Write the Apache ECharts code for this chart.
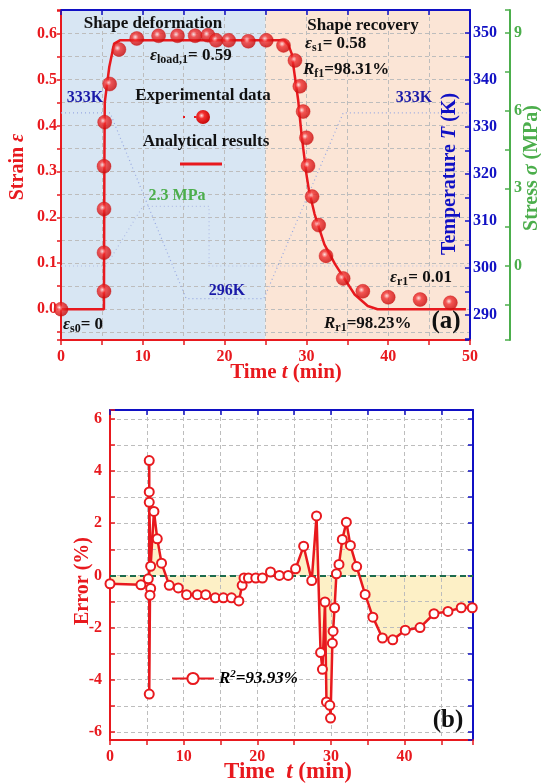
<!DOCTYPE html>
<html>
<head>
<meta charset="utf-8">
<script src="https://cdn.jsdelivr.net/npm/echarts@6/dist/echarts.min.js"></script>
<style>
  html, body { margin: 0; padding: 0; background: #fff; }
  #chart { width: 541px; height: 783px; }
</style>
</head>
<body>
<div id="chart"></div>
<script>
const RED = '#e8191e', BLUE = '#1010c4', GREEN = '#4cae4c';
const FONT = 'Liberation Serif';

// (a) experimental strain points
const expTime = [0, 5.26, 5.26, 5.26, 5.26, 5.34, 5.95, 7.08, 9.26, 11.93, 14.24, 16.4, 17.96, 18.97, 20.5, 22.9, 25.1, 27.2, 28.6, 29.2, 29.6, 30.0, 30.2, 30.7, 31.5, 32.4, 34.5, 36.9, 40.0, 43.9, 47.6];
const expStrain = [0, 0.039, 0.123, 0.218, 0.311, 0.407, 0.49, 0.565, 0.589, 0.595, 0.595, 0.595, 0.596, 0.585, 0.585, 0.583, 0.585, 0.574, 0.541, 0.485, 0.43, 0.373, 0.312, 0.245, 0.183, 0.116, 0.067, 0.039, 0.026, 0.021, 0.014];

// (a) analytical curve
const fitTime = [0, 5.25, 5.3, 5.35, 5.9, 6.5, 7.2, 27.3, 27.8, 28.2, 29.0, 29.4, 30.0, 30.3, 31.0, 32.2, 33.5, 35.9, 37.5, 38.7, 49.5];
const fitStrain = [0, 0, 0.3, 0.45, 0.527, 0.578, 0.585, 0.585, 0.575, 0.556, 0.454, 0.381, 0.294, 0.26, 0.207, 0.141, 0.098, 0.032, 0.007, 0, 0];

// (a) faint temperature and stress programmes
const tempTime = [0, 6, 15.3, 24.8, 34.5, 50];
const tempK = [333, 333, 293.5, 293.5, 333, 333];
const stressTime = [0, 5.5, 10, 18.1, 18.1, 50];
const stressMPa = [0, 0, 2.3, 2.3, 0, 0];

// (b) error between experiment and analysis
const errTime = [0, 4.2, 5.2, 5.52, 5.43, 5.33, 5.33, 5.33, 5.33, 5.52, 5.97, 6.42, 7.0, 8.05, 9.27, 10.4, 11.85, 13.0, 14.3, 15.4, 16.5, 17.5, 17.95, 18.2, 18.8, 19.8, 20.7, 21.8, 23.0, 24.2, 25.2, 26.3, 27.4, 28.05, 28.6, 28.85, 29.2, 29.4, 29.85, 29.95, 30.2, 30.3, 30.5, 30.75, 31.1, 31.55, 32.1, 32.65, 33.5, 34.65, 35.7, 37.0, 38.4, 40.1, 42.1, 44.0, 45.9, 47.7, 49.2];
const errVal = [-0.32, -0.36, -0.13, -0.5, -0.76, -4.55, 4.4, 3.2, 2.8, 0.35, 2.45, 1.4, 0.47, -0.38, -0.48, -0.74, -0.74, -0.74, -0.86, -0.86, -0.86, -0.98, -0.38, -0.1, -0.1, -0.1, -0.1, 0.13, 0, 0, 0.25, 1.12, -0.2, 2.28, -2.96, -3.6, -1.02, -4.85, -4.98, -5.47, -2.6, -2.14, -1.24, 0.06, 0.42, 1.38, 2.04, 1.15, 0.34, -0.73, -1.6, -2.4, -2.47, -2.1, -2.0, -1.47, -1.38, -1.24, -1.24];

const zip = (a, b) => a.map((v, i) => [v, b[i]]);
const every = (step, digits) => (v) => {
    const k = v / step;
    return Math.abs(k - Math.round(k)) < 1e-6 ? v.toFixed(digits) : '';
};

const labelStyle = (color) => ({ color: color, fontFamily: FONT, fontWeight: 'bold', fontSize: 16 });
const gridLine = { show: true, lineStyle: { color: '#bdbdbd', type: [4, 3], width: 1 } };

function axisLine(color) { return { show: true, onZero: false, lineStyle: { color: color, width: 2 } }; }

const ball = {
    type: 'radial', x: 0.4, y: 0.4, r: 0.6,
    colorStops: [{ offset: 0, color: '#ffe0e0' }, { offset: 0.35, color: '#f23030' }, { offset: 1, color: '#c80a0a' }]
};

// text helpers for annotations
function txt(x, y, text, color, size) {
    return {
        type: 'text', x: x, y: y, z: 50,
        style: {
            text: text, fill: color, font: 'bold ' + size + 'px "' + FONT + '"',
            align: 'center', verticalAlign: 'middle'
        }
    };
}
function richTxt(x, y, text, color, size, rotation, align) {
    const sub = Math.round(size * 0.68);
    return {
        type: 'text', x: x, y: y, z: 50, rotation: rotation || 0,
        style: {
            text: text, fill: color, align: align || 'center', verticalAlign: 'middle',
            fontFamily: FONT, fontWeight: 'bold', fontSize: size,
            rich: {
                n: { fill: color, fontFamily: FONT, fontWeight: 'bold', fontSize: size },
                i: { fill: color, fontFamily: FONT, fontWeight: 'bold', fontStyle: 'italic', fontSize: size },
                s: { fill: color, fontFamily: FONT, fontWeight: 'bold', fontSize: sub, padding: [Math.round(size * 0.45), 0, 0, 0] }
            }
        }
    };
}

const chart = echarts.init(document.getElementById('chart'));
const option = {
    animation: false,
    backgroundColor: '#fff',
    grid: [
        { left: 61, right: 71, top: 10, height: 330 },
        { left: 110, right: 68, top: 410, height: 330 }
    ],
    xAxis: [
        {
            gridIndex: 0, type: 'value', position: 'bottom', min: 0, max: 50, interval: 5, z: 2,
            axisLine: axisLine(RED), axisTick: { show: true, length: 5, lineStyle: { color: RED, width: 1.5 } },
            axisLabel: Object.assign(labelStyle(RED), { formatter: every(10, 0), margin: 9 }),
            splitLine: gridLine
        },
        {
            gridIndex: 0, type: 'value', position: 'top', min: 0, max: 50, interval: 5, z: 2,
            axisLine: axisLine(BLUE), axisTick: { show: true, inside: true, length: 5, lineStyle: { color: BLUE, width: 1.5 } },
            axisLabel: { show: false }, splitLine: { show: false }
        },
        {
            gridIndex: 1, type: 'value', position: 'bottom', min: 0, max: 49.3, interval: 5, z: 2,
            axisLine: axisLine(RED), axisTick: { show: true, length: 5, lineStyle: { color: RED, width: 1.5 } },
            axisLabel: Object.assign(labelStyle(RED), { formatter: every(10, 0), margin: 9 }),
            splitLine: gridLine
        },
        {
            gridIndex: 1, type: 'value', position: 'top', min: 0, max: 49.3, interval: 5, z: 2,
            axisLine: axisLine(BLUE), axisTick: { show: true, inside: true, length: 5, lineStyle: { color: BLUE, width: 1.5 } },
            axisLabel: { show: false }, splitLine: { show: false }
        }
    ],
    yAxis: [
        {
            gridIndex: 0, type: 'value', position: 'left', min: -0.067, max: 0.651, z: 2,
            splitNumber: 14, minInterval: 0.05, maxInterval: 0.05,
            axisLine: axisLine(RED), axisTick: { show: true, length: 4, lineStyle: { color: RED, width: 1.5 } },
            axisLabel: Object.assign(labelStyle(RED), { formatter: every(0.1, 1), margin: 4 }),
            splitLine: gridLine
        },
        {
            gridIndex: 0, type: 'value', position: 'right', min: 284.7, max: 354.9, z: 2,
            splitNumber: 14, minInterval: 5, maxInterval: 5,
            axisLine: axisLine(BLUE), axisTick: { show: true, inside: true, length: 5, lineStyle: { color: BLUE, width: 1.5 } },
            axisLabel: Object.assign(labelStyle(BLUE), { formatter: every(10, 0), margin: 3 }),
            splitLine: { show: false }
        },
        {
            gridIndex: 0, type: 'value', position: 'right', offset: 40, min: -2.86, max: 9.89, z: 2,
            splitNumber: 8, minInterval: 1.5, maxInterval: 1.5,
            axisLine: axisLine(GREEN), axisTick: { show: true, inside: true, length: 5, lineStyle: { color: GREEN, width: 1.5 } },
            axisLabel: Object.assign(labelStyle(GREEN), { formatter: every(3, 0), margin: 4 }),
            splitLine: { show: false }
        },
        {
            gridIndex: 1, type: 'value', position: 'left', min: -6.31, max: 6.34, z: 2,
            splitNumber: 12, minInterval: 1, maxInterval: 1,
            axisLine: axisLine(RED), axisTick: { show: true, inside: true, length: 5, lineStyle: { color: RED, width: 1.5 } },
            axisLabel: Object.assign(labelStyle(RED), { formatter: every(2, 0), margin: 8 }),
            splitLine: gridLine
        },
        {
            gridIndex: 1, type: 'value', position: 'right', min: -6.31, max: 6.34, z: 2,
            splitNumber: 12, minInterval: 1, maxInterval: 1,
            axisLine: axisLine(BLUE), axisTick: { show: true, inside: true, length: 5, lineStyle: { color: BLUE, width: 1.5 } },
            axisLabel: { show: false }, splitLine: { show: false }
        }
    ],
    legend: {
        data: ['R2'], left: 166, top: 664, itemWidth: 42, itemHeight: 14, itemGap: 4,
        formatter: () => '{i|R}{s|2}{n|=93.93%}',
        textStyle: {
            color: '#000', fontFamily: FONT, fontWeight: 'bold', fontStyle: 'italic', fontSize: 17,
            rich: {
                i: { fontFamily: FONT, fontWeight: 'bold', fontStyle: 'italic', fontSize: 17, color: '#000' },
                s: { fontFamily: FONT, fontWeight: 'bold', fontSize: 11, color: '#000', padding: [0, 0, 8, 0] },
                n: { fontFamily: FONT, fontWeight: 'bold', fontStyle: 'italic', fontSize: 17, color: '#000' }
            }
        }
    },
    series: [
        {
            name: 'bg', type: 'line', xAxisIndex: 0, yAxisIndex: 0, data: [], z: 1, silent: true,
            markArea: {
                silent: true, z: 1,
                data: [
                    [{ xAxis: 0, itemStyle: { color: '#d8e6f3' } }, { xAxis: 25 }],
                    [{ xAxis: 25, itemStyle: { color: '#fbe5d6' } }, { xAxis: 50 }]
                ]
            }
        },
        {
            name: 'temperature', type: 'line', xAxisIndex: 0, yAxisIndex: 1, data: zip(tempTime, tempK),
            showSymbol: false, z: 2.5, lineStyle: { color: '#98a9e2', width: 1.2, type: [1, 3] }
        },
        {
            name: 'stress', type: 'line', xAxisIndex: 0, yAxisIndex: 2, data: zip(stressTime, stressMPa),
            showSymbol: false, z: 2.5, lineStyle: { color: '#b0bde6', width: 1.2, type: [1, 3] }
        },
        {
            name: 'Analytical results', type: 'line', xAxisIndex: 0, yAxisIndex: 0, data: zip(fitTime, fitStrain),
            showSymbol: false, z: 3, lineStyle: { color: RED, width: 2.5 }
        },
        {
            name: 'Experimental data', type: 'scatter', xAxisIndex: 0, yAxisIndex: 0, data: zip(expTime, expStrain),
            symbolSize: 14, z: 4, clip: false, itemStyle: { color: ball, borderColor: '#d01010', borderWidth: 0.5 }
        },
        {
            name: 'errArea', type: 'line', xAxisIndex: 2, yAxisIndex: 3, data: zip(errTime, errVal),
            showSymbol: false, z: 1, silent: true,
            lineStyle: { opacity: 0 },
            areaStyle: { color: '#fdf0c6', opacity: 1 },
            markLine: {
                silent: true, symbol: 'none', z: 3, label: { show: false },
                lineStyle: { color: '#1c6b4c', width: 2, type: [6, 4] },
                data: [{ yAxis: 0 }]
            }
        },
        {
            name: 'R2', type: 'line', xAxisIndex: 2, yAxisIndex: 3, data: zip(errTime, errVal),
            symbol: 'circle', symbolSize: 9, showAllSymbol: true, clip: false, z: 4,
            lineStyle: { color: RED, width: 2.5 },
            itemStyle: { color: '#fff', borderColor: RED, borderWidth: 2 }
        }
    ],
    graphic: [
        // axis titles
        richTxt(18, 167, '{n|Strain }{i|ε}', RED, 20, Math.PI / 2),
        richTxt(286, 373, '{n|Time }{i|t}{n| (min)}', RED, 21, 0),
        richTxt(450, 174, '{n|Temperature }{i|T}{n| (K)}', BLUE, 20, Math.PI / 2),
        richTxt(532, 168, '{n|Stress }{i|σ}{n| (MPa)}', GREEN, 20, Math.PI / 2),
        richTxt(83, 581, '{n|Error (%)}', RED, 20, Math.PI / 2),
        richTxt(288, 772, '{n|Time  }{i|t}{n| (min)}', RED, 23, 0),
        // panel (a) annotations
        txt(153, 24, 'Shape deformation', '#111', 17),
        richTxt(150, 56, '{i|ε}{s|load,1}{n|= 0.59}', '#111', 17, 0, 'left'),
        txt(85, 98, '333K', '#1a1aa8', 16),
        txt(203, 96, 'Experimental data', '#111', 17),
        { type: 'line', z: 49, shape: { x1: 183, y1: 117, x2: 215, y2: 117 }, style: { stroke: RED, lineWidth: 2, lineDash: [2, 9] } },
        { type: 'circle', z: 50, shape: { cx: 203, cy: 117, r: 7 }, style: { fill: new echarts.graphic.RadialGradient(0.4, 0.4, 0.6, ball.colorStops) } },
        txt(206, 142, 'Analytical results', '#111', 17),
        { type: 'line', z: 50, shape: { x1: 180, y1: 164, x2: 222, y2: 164 }, style: { stroke: RED, lineWidth: 3 } },
        txt(177, 196, '2.3 MPa', GREEN, 16),
        txt(227, 291, '296K', '#1a1aa8', 16),
        richTxt(63, 325, '{i|ε}{s|s0}{n|= 0}', '#111', 17, 0, 'left'),
        txt(363, 26, 'Shape recovery', '#111', 17),
        richTxt(305, 44, '{i|ε}{s|s1}{n|= 0.58}', '#111', 17, 0, 'left'),
        richTxt(303, 70, '{i|R}{s|f1}{n|=98.31%}', '#111', 17, 0, 'left'),
        txt(414, 98, '333K', '#1a1aa8', 16),
        richTxt(390, 278, '{i|ε}{s|r1}{n|= 0.01}', '#111', 17, 0, 'left'),
        richTxt(324, 324, '{i|R}{s|r1}{n|=98.23%}', '#111', 17, 0, 'left'),
        txt(446, 322, '(a)', '#111', 25),
        // panel (b)
        txt(448, 721, '(b)', '#111', 25)
    ]
};
chart.setOption(option);
</script>
</body>
</html>
